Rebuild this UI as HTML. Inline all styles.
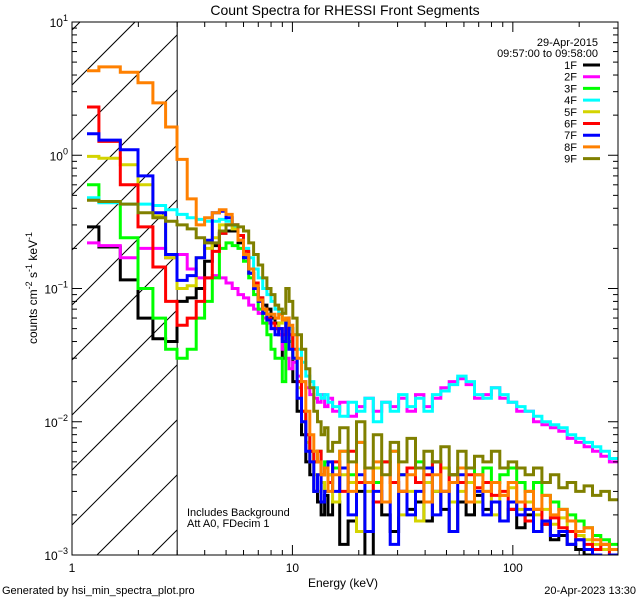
<!DOCTYPE html>
<html><head><meta charset="utf-8"><style>
html,body{margin:0;padding:0;background:#fff;width:640px;height:600px;overflow:hidden;}
svg{display:block;font-family:"Liberation Sans",sans-serif;}
</style></head><body>
<svg id="chart" width="640" height="600" viewBox="0 0 640 600" xmlns="http://www.w3.org/2000/svg">
<rect width="640" height="600" fill="#fff"/>
<defs><clipPath id="plotclip"><rect x="72" y="22" width="546" height="533"/></clipPath></defs>
<text x="345" y="15" font-size="14" text-anchor="middle">Count Spectra for RHESSI Front Segments</text>
<text x="343" y="587" font-size="12" text-anchor="middle">Energy (keV)</text>
<text transform="translate(37,288) rotate(-90)" font-size="12" text-anchor="middle">counts cm<tspan dy="-5" font-size="9">-2</tspan><tspan dy="5"> s</tspan><tspan dy="-5" font-size="9">-1</tspan><tspan dy="5"> keV</tspan><tspan dy="-5" font-size="9">-1</tspan></text>
<text x="2" y="594" font-size="11">Generated by hsi_min_spectra_plot.pro</text>
<text x="636" y="594" font-size="11" text-anchor="end">20-Apr-2023 13:30</text>
<text x="598" y="46" font-size="11" text-anchor="end">29-Apr-2015</text>
<text x="598" y="57" font-size="11" text-anchor="end">09:57:00 to 09:58:00</text>
<text x="187" y="516" font-size="11">Includes Background</text>
<text x="187" y="527" font-size="11">Att A0, FDecim 1</text>
<g id="hatch"></g>
<g id="series" clip-path="url(#plotclip)"></g>
<g id="axes"></g>
<g id="legend"></g>
</svg>
<script>
const lowE=[1.17,1.5,1.83,2.17,2.5,2.83,3.17,3.5,3.83,4.17,4.5,4.83,5.17,5.5,5.83,6.17,6.5,6.83,7.17,7.5,7.83,8.17,8.5,8.83,9.17,9.5,9.83];
const midE=[10.25,10.75,11.25,11.75,12.25,12.75,13.25,13.75,14.25,14.75];
const highE=[15.7,17.1,18.7,20.4,22.3,24.3,26.6,29.0,31.7,34.6,37.8,41.3,45.1,49.2,53.8,58.7,64.1,70.0,76.5,83.5,91.2,99.6,108.8,118.8,129.7,141.6,154.7,168.9,184.5,201.4,220,240,262,287];
const seriesNames=["1F","2F","3F","4F","5F","6F","7F","8F","9F"];
const seriesColors=["#000000","#ff00ff","#00ff00","#00ffff","#d4d400","#ff0000","#0000ff","#ff8000","#808000"];
const s1F=[0.29,0.205,0.116,0.06,0.042,0.04,0.08,0.085,0.1,0.16,0.21,0.26,0.27,0.27,0.22,0.17,0.13,0.1,0.085,0.075,0.07,0.06,0.055,0.045,0.03,0.06,0.05,
0.02,0.012,0.008,0.005,0.004,0.003,0.0025,0.002,0.0028,0.002,
0.0025,0.0012,0.0018,0.003,0.0008,0.0025,0.002,0.0015,0.003,0.0022,0.0025,0.0018,0.003,0.0022,0.0015,0.0025,0.002,0.0028,0.0022,0.0025,0.0018,0.0022,0.0016,0.002,0.0015,0.0017,0.0013,0.0014,0.0012,0.0011,0.001,0.0009,0.0009,0.0008];
const s2F=[0.22,0.21,0.17,0.2,0.2,0.17,0.18,0.14,0.12,0.12,0.125,0.12,0.11,0.1,0.09,0.085,0.075,0.07,0.065,0.06,0.055,0.05,0.05,0.045,0.035,0.03,0.025,
0.028,0.022,0.02,0.018,0.016,0.015,0.014,0.016,0.013,0.015,
0.012,0.014,0.011,0.013,0.015,0.012,0.014,0.013,0.015,0.012,0.016,0.013,0.015,0.018,0.02,0.021,0.019,0.015,0.016,0.018,0.015,0.014,0.012,0.012,0.01,0.0095,0.009,0.0085,0.0075,0.007,0.0065,0.006,0.0055,0.005];
const s3F=[0.6,0.45,0.24,0.1,0.06,0.035,0.03,0.035,0.06,0.08,0.12,0.2,0.22,0.21,0.2,0.16,0.12,0.09,0.07,0.055,0.045,0.035,0.03,0.03,0.02,0.045,0.04,
0.03,0.02,0.012,0.008,0.006,0.005,0.006,0.004,0.005,0.004,
0.0045,0.006,0.004,0.007,0.0045,0.0035,0.005,0.006,0.004,0.0045,0.005,0.0035,0.005,0.0045,0.004,0.0035,0.0045,0.004,0.0045,0.0035,0.004,0.0045,0.0035,0.003,0.0035,0.0028,0.0025,0.0022,0.002,0.0018,0.0016,0.0014,0.0013,0.0012];
const s4F=[0.48,0.44,0.43,0.43,0.42,0.39,0.36,0.34,0.33,0.32,0.32,0.33,0.32,0.29,0.25,0.2,0.17,0.14,0.12,0.1,0.09,0.08,0.07,0.065,0.06,0.055,0.05,
0.045,0.035,0.028,0.022,0.02,0.018,0.016,0.015,0.016,0.014,
0.013,0.011,0.014,0.012,0.015,0.01,0.014,0.012,0.016,0.013,0.015,0.012,0.016,0.017,0.019,0.022,0.02,0.016,0.015,0.018,0.016,0.014,0.013,0.012,0.011,0.01,0.0095,0.009,0.008,0.0075,0.007,0.0065,0.006,0.0053];
const s5F=[0.98,0.95,0.85,0.6,0.35,0.17,0.1,0.105,0.17,0.2,0.24,0.3,0.3,0.28,0.23,0.17,0.13,0.1,0.08,0.068,0.06,0.055,0.05,0.055,0.06,0.05,0.045,
0.03,0.018,0.01,0.007,0.005,0.004,0.003,0.0035,0.003,0.004,
0.0025,0.004,0.0035,0.0015,0.003,0.0045,0.0025,0.0035,0.002,0.003,0.0018,0.0035,0.003,0.0045,0.0025,0.003,0.0035,0.0025,0.003,0.002,0.0028,0.0032,0.0022,0.0025,0.002,0.0022,0.0017,0.0019,0.0015,0.0014,0.0013,0.0012,0.0011,0.0011];
const s6F=[2.3,1.27,0.6,0.29,0.145,0.08,0.053,0.06,0.08,0.12,0.19,0.26,0.3,0.3,0.25,0.19,0.14,0.11,0.085,0.07,0.06,0.055,0.05,0.05,0.045,0.05,0.045,
0.035,0.02,0.012,0.008,0.006,0.005,0.006,0.004,0.0045,0.0035,
0.005,0.003,0.006,0.0035,0.0045,0.0025,0.005,0.0035,0.003,0.0045,0.0035,0.004,0.005,0.003,0.004,0.0035,0.004,0.0032,0.0035,0.0028,0.003,0.0022,0.0025,0.0018,0.0022,0.0017,0.0019,0.0016,0.0015,0.0013,0.0012,0.0011,0.0012,0.001];
const s7F=[1.45,1.3,1.1,0.7,0.37,0.18,0.115,0.125,0.17,0.23,0.37,0.38,0.34,0.3,0.23,0.17,0.13,0.1,0.08,0.065,0.058,0.05,0.045,0.05,0.04,0.055,0.035,
0.03,0.015,0.01,0.006,0.005,0.003,0.004,0.0025,0.003,0.005,
0.003,0.0045,0.002,0.004,0.0015,0.003,0.0025,0.0012,0.004,0.002,0.003,0.0045,0.002,0.003,0.0015,0.004,0.0025,0.003,0.002,0.0025,0.0018,0.0025,0.002,0.0022,0.0015,0.0018,0.0014,0.0015,0.0012,0.0013,0.0011,0.001,0.0009,0.001];
const s8F=[4.3,4.6,4.2,3.5,2.47,1.63,0.93,0.47,0.30,0.34,0.37,0.39,0.36,0.30,0.23,0.18,0.14,0.105,0.082,0.07,0.064,0.064,0.06,0.064,0.058,0.06,0.053,
0.045,0.03,0.02,0.012,0.008,0.006,0.005,0.004,0.0045,0.003,
0.004,0.006,0.003,0.007,0.0035,0.005,0.0025,0.006,0.003,0.004,0.0045,0.0025,0.004,0.003,0.0035,0.0045,0.0025,0.004,0.003,0.0035,0.0028,0.0035,0.0025,0.003,0.0022,0.0028,0.002,0.0022,0.0018,0.0015,0.0016,0.0013,0.0012,0.0011];
const s9F=[0.46,0.45,0.43,0.37,0.34,0.32,0.3,0.28,0.24,0.22,0.22,0.27,0.3,0.3,0.29,0.27,0.22,0.18,0.15,0.12,0.1,0.09,0.075,0.07,0.065,0.1,0.08,
0.06,0.045,0.035,0.025,0.018,0.012,0.01,0.008,0.009,0.006,
0.007,0.009,0.005,0.01,0.0045,0.008,0.004,0.007,0.005,0.0075,0.0045,0.006,0.005,0.0065,0.004,0.006,0.0045,0.0055,0.005,0.006,0.0045,0.005,0.0045,0.004,0.0045,0.0035,0.004,0.0032,0.0035,0.003,0.0033,0.0028,0.003,0.0026];
const seriesValues=[s1F,s2F,s3F,s4F,s5F,s6F,s7F,s8F,s9F];
const xMajorTicks=[1,10,100];
const xTickLabels=["1","10","100"];
const yMajorTicks=[1e1,1e0,1e-1,1e-2,1e-3];
const yTickExps=["1","0","\u22121","\u22122","\u22123"];

const X0=72,X1=618,Y0=22,Y1=555;
const xMin=1,xMax=300,yMin=1e-3,yMax=10;
function xPix(e){return X0+(X1-X0)*(Math.log10(e)-Math.log10(xMin))/(Math.log10(xMax)-Math.log10(xMin));}
function yPix(v){return Y0+(Y1-Y0)*(Math.log10(yMax)-Math.log10(v))/(Math.log10(yMax)-Math.log10(yMin));}
const NS="http://www.w3.org/2000/svg";
function mk(tag,attrs,parent){const el=document.createElementNS(NS,tag);for(const k in attrs)el.setAttribute(k,attrs[k]);parent.appendChild(el);return el;}

const energies=lowE.concat(midE,highE);
const edges=[energies[0]];
for(let i=1;i<energies.length;i++)edges.push(Math.sqrt(energies[i-1]*energies[i]));
edges.push(xMax);

// hatch lines clipped analytically to the plot box (slope 45deg: y = b - (x - X0))
const hatch=document.getElementById('hatch');
const xh=xPix(3);
for(let k=-12;k<12;k++){
  const b=Y0+63+k*55;
  let xa=X0, ya=b;
  if(ya>Y1){xa=X0+(ya-Y1);ya=Y1;}
  let xb=xh, yb=b-(xh-X0);
  if(yb<Y0){xb=X0+(b-Y0);yb=Y0;}
  if(xa>=xb||xa>xh||xb<X0)continue;
  const ln=mk('line',{x1:xa,y1:ya,x2:xb,y2:yb,stroke:'#000','stroke-width':1},hatch);
  
  
}
const vl=mk('line',{x1:xh,y1:Y0,x2:xh,y2:Y1,stroke:'#000','stroke-width':1},hatch);



const sg=document.getElementById('series');
seriesValues.forEach((vals,si)=>{
  const clampY=v=>yPix(Math.max(v,yMin*0.8));
  let d='M'+xPix(edges[0]).toFixed(1)+','+clampY(vals[0]).toFixed(1);
  for(let i=0;i<vals.length;i++){
    if(i>0)d+='V'+clampY(vals[i]).toFixed(1);
    d+='H'+xPix(edges[i+1]).toFixed(1);
  }
  const p=mk('path',{d:d,fill:'none',stroke:seriesColors[si],'stroke-width':3,'stroke-linejoin':'miter'},sg);
  
  
});

const ax=document.getElementById('axes');
const frame=mk('rect',{x:X0,y:Y0,width:X1-X0,height:Y1-Y0,fill:'none',stroke:'#000','stroke-width':1},ax);


xMajorTicks.forEach((t,i)=>{
  for(let m=1;m<=9;m++){
    const e=t*m; if(e>xMax)break;
    const x=xPix(e), len=(m===1)?10:5;
    mk('line',{x1:x,y1:Y1,x2:x,y2:Y1-len,stroke:'#000'},ax);
    mk('line',{x1:x,y1:Y0,x2:x,y2:Y0+len,stroke:'#000'},ax);
  }
  const tl=mk('text',{x:xPix(t),y:Y1+17,'font-size':12,'text-anchor':'middle'},ax);
  tl.textContent=xTickLabels[i];
  
  
});
yMajorTicks.forEach((t,i)=>{
  const y=yPix(t);
  mk('line',{x1:X0,y1:y,x2:X0+10,y2:y,stroke:'#000'},ax);
  mk('line',{x1:X1,y1:y,x2:X1-10,y2:y,stroke:'#000'},ax);
  if(i>0){for(let m=2;m<=9;m++){const ym=yPix(t*m);
    mk('line',{x1:X0,y1:ym,x2:X0+5,y2:ym,stroke:'#000'},ax);
    mk('line',{x1:X1,y1:ym,x2:X1-5,y2:ym,stroke:'#000'},ax);}}
  const tl=mk('text',{x:X0-4,y:y+5,'font-size':12,'text-anchor':'end'},ax);
  tl.innerHTML='10<tspan dy="-6" font-size="9">'+yTickExps[i]+'</tspan>';
  
  
});

const lg=document.getElementById('legend');
seriesNames.forEach((n,i)=>{
  const y=65+i*11.7;
  const g=mk('g',{},lg);
  
  
  const t=mk('text',{x:577,y:y+4,'font-size':11,'text-anchor':'end'},g);
  t.textContent=n;
  mk('line',{x1:583,y1:y,x2:600,y2:y,stroke:seriesColors[i],'stroke-width':3},g);
});
</script>
</body></html>
